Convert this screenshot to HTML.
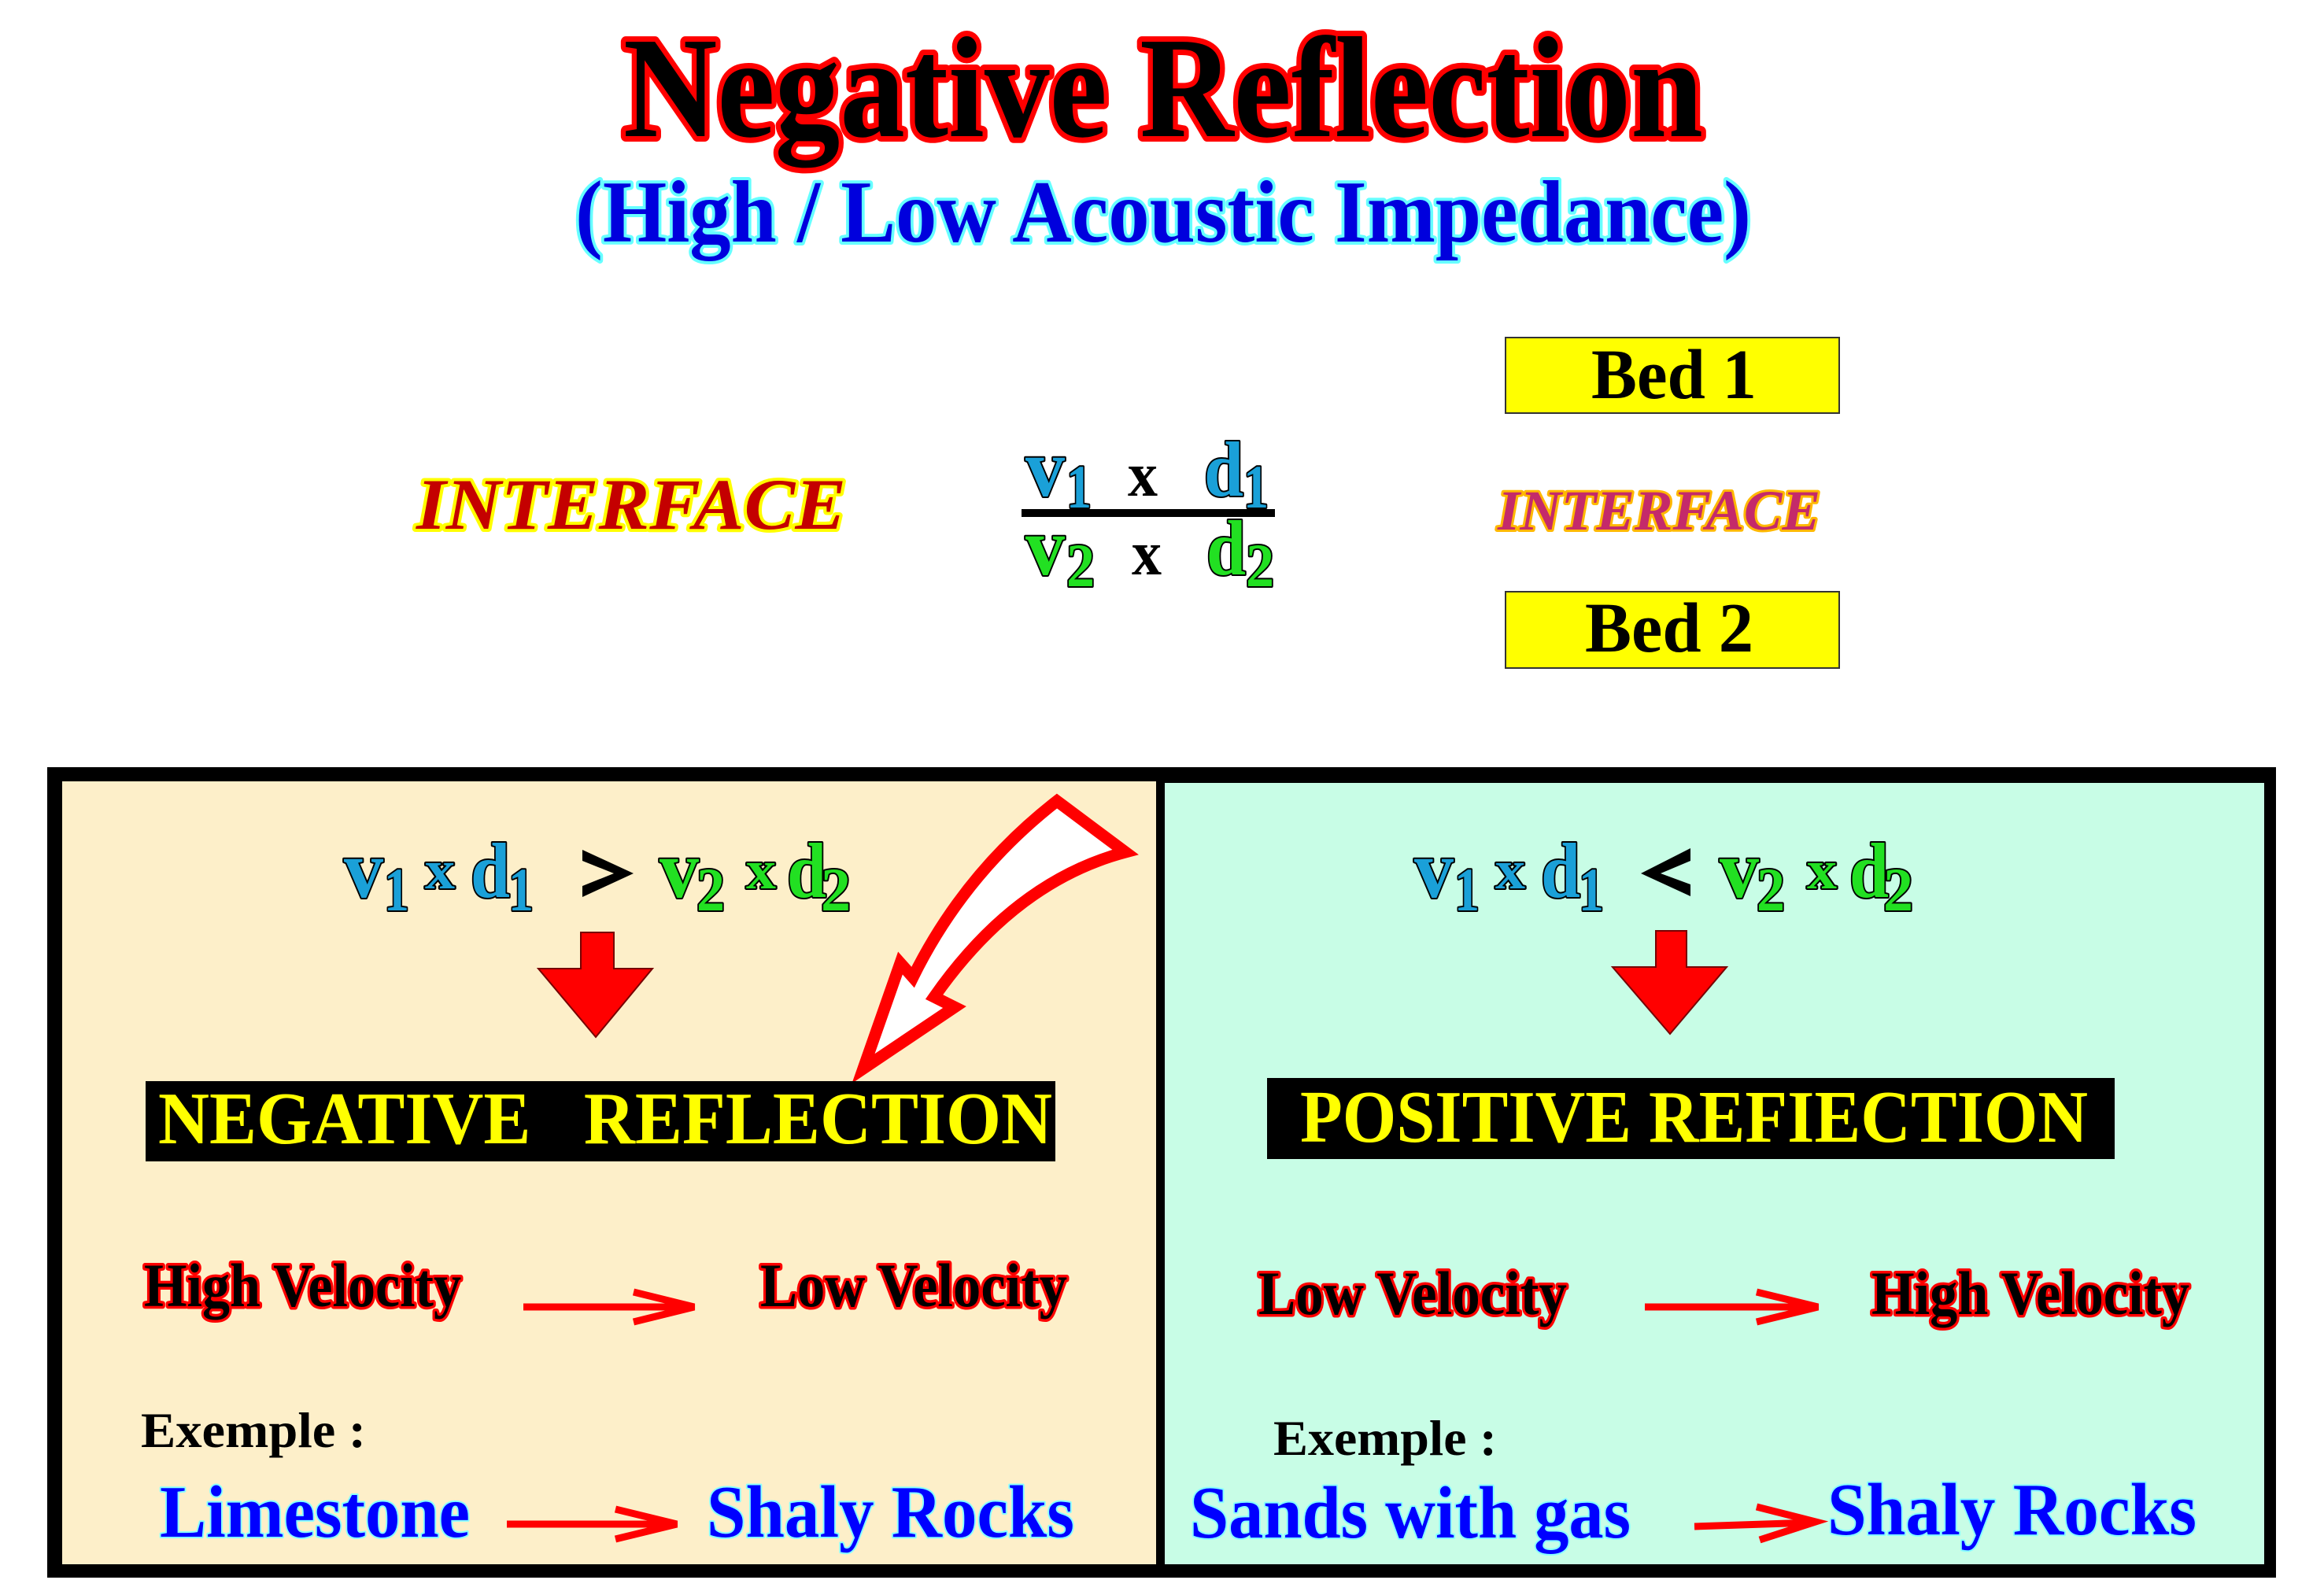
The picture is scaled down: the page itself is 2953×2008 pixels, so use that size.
<!DOCTYPE html>
<html><head><meta charset="utf-8"><style>
html,body{margin:0;padding:0;background:#fff;}
svg{display:block;}
text{font-family:"Liberation Serif",serif;font-weight:bold;paint-order:stroke;}
</style></head><body>
<svg width="2953" height="2008" viewBox="0 0 2953 2008" xmlns="http://www.w3.org/2000/svg">
<!-- Title -->
<text x="792" y="173" font-size="183" fill="#000" stroke="#ff0000" stroke-width="14" stroke-linejoin="round" textLength="1372" lengthAdjust="spacingAndGlyphs">Negative Reflection</text>
<text x="731" y="307" font-size="112" fill="#0000dd" stroke="#66ffff" stroke-width="8" stroke-linejoin="round" textLength="1494" lengthAdjust="spacingAndGlyphs">(High / Low Acoustic Impedance)</text>

<!-- Left INTERFACE -->
<text x="529" y="672" font-size="92" font-style="italic" fill="#c40000" stroke="#ffff00" stroke-width="8" stroke-linejoin="round" textLength="546" lengthAdjust="spacingAndGlyphs">INTERFACE</text>

<!-- Fraction -->
<g stroke="#000" stroke-width="4" stroke-linejoin="round">
<text x="1303" y="630" font-size="105" fill="#1aa0d8" textLength="50" lengthAdjust="spacingAndGlyphs">v</text>
<text x="1355" y="645" font-size="78" fill="#1aa0d8" textLength="32" lengthAdjust="spacingAndGlyphs">1</text>
<text x="1530" y="630" font-size="100" fill="#1aa0d8" textLength="50" lengthAdjust="spacingAndGlyphs">d</text>
<text x="1580" y="645" font-size="78" fill="#1aa0d8" textLength="32" lengthAdjust="spacingAndGlyphs">1</text>
<text x="1303" y="730" font-size="105" fill="#22e022" textLength="50" lengthAdjust="spacingAndGlyphs">v</text>
<text x="1355" y="745" font-size="78" fill="#22e022" textLength="36" lengthAdjust="spacingAndGlyphs">2</text>
<text x="1533" y="730" font-size="100" fill="#22e022" textLength="50" lengthAdjust="spacingAndGlyphs">d</text>
<text x="1583" y="745" font-size="78" fill="#22e022" textLength="36" lengthAdjust="spacingAndGlyphs">2</text>
</g>
<text x="1433" y="630" font-size="80" fill="#000" textLength="38" lengthAdjust="spacingAndGlyphs">x</text>
<text x="1438" y="730" font-size="80" fill="#000" textLength="38" lengthAdjust="spacingAndGlyphs">x</text>
<rect x="1298" y="647" width="322" height="10" fill="#000"/>

<!-- Bed boxes -->
<rect x="1913" y="429" width="424" height="96" fill="#ffff00" stroke="#333" stroke-width="2"/>
<text x="2022" y="506" font-size="90" fill="#000" textLength="210" lengthAdjust="spacingAndGlyphs">Bed 1</text>
<text x="1903" y="673" font-size="72" font-style="italic" fill="#c42a6a" stroke="#ffb800" stroke-width="6" stroke-linejoin="round" textLength="410" lengthAdjust="spacingAndGlyphs">INTERFACE</text>
<rect x="1913" y="752" width="424" height="97" fill="#ffff00" stroke="#333" stroke-width="2"/>
<text x="2014" y="828" font-size="90" fill="#000" textLength="214" lengthAdjust="spacingAndGlyphs">Bed 2</text>

<!-- Panels -->
<rect x="60" y="975" width="2832" height="1030" fill="#000"/>
<rect x="79" y="993" width="1390" height="995" fill="#fdefc9"/>
<rect x="1480" y="995" width="1397" height="993" fill="#c8fde6"/>

<!-- Left formula -->
<g stroke="#000" stroke-width="4" stroke-linejoin="round">
<text x="437" y="1140" font-size="105" fill="#1aa0d8" textLength="50" lengthAdjust="spacingAndGlyphs">v</text>
<text x="488" y="1157" font-size="78" fill="#1aa0d8" textLength="32" lengthAdjust="spacingAndGlyphs">1</text>
<text x="540" y="1129" font-size="70" fill="#1aa0d8" textLength="38" lengthAdjust="spacingAndGlyphs">x</text>
<text x="598" y="1140" font-size="100" fill="#1aa0d8" textLength="50" lengthAdjust="spacingAndGlyphs">d</text>
<text x="646" y="1157" font-size="78" fill="#1aa0d8" textLength="32" lengthAdjust="spacingAndGlyphs">1</text>
<text x="838" y="1140" font-size="105" fill="#22e022" textLength="50" lengthAdjust="spacingAndGlyphs">v</text>
<text x="885" y="1157" font-size="78" fill="#22e022" textLength="36" lengthAdjust="spacingAndGlyphs">2</text>
<text x="948" y="1129" font-size="70" fill="#22e022" textLength="38" lengthAdjust="spacingAndGlyphs">x</text>
<text x="1000" y="1140" font-size="100" fill="#22e022" textLength="50" lengthAdjust="spacingAndGlyphs">d</text>
<text x="1043" y="1157" font-size="78" fill="#22e022" textLength="38" lengthAdjust="spacingAndGlyphs">2</text>
</g>
<polygon points="740,1080 805,1110 740,1140 740,1126 780,1110 740,1094" fill="#000"/>

<!-- Right formula -->
<g stroke="#000" stroke-width="4" stroke-linejoin="round">
<text x="1797" y="1140" font-size="105" fill="#1aa0d8" textLength="50" lengthAdjust="spacingAndGlyphs">v</text>
<text x="1848" y="1157" font-size="78" fill="#1aa0d8" textLength="32" lengthAdjust="spacingAndGlyphs">1</text>
<text x="1900" y="1129" font-size="70" fill="#1aa0d8" textLength="38" lengthAdjust="spacingAndGlyphs">x</text>
<text x="1958" y="1140" font-size="100" fill="#1aa0d8" textLength="50" lengthAdjust="spacingAndGlyphs">d</text>
<text x="2006" y="1157" font-size="78" fill="#1aa0d8" textLength="32" lengthAdjust="spacingAndGlyphs">1</text>
<text x="2185" y="1140" font-size="105" fill="#22e022" textLength="50" lengthAdjust="spacingAndGlyphs">v</text>
<text x="2232" y="1157" font-size="78" fill="#22e022" textLength="36" lengthAdjust="spacingAndGlyphs">2</text>
<text x="2296" y="1129" font-size="70" fill="#22e022" textLength="38" lengthAdjust="spacingAndGlyphs">x</text>
<text x="2350" y="1140" font-size="100" fill="#22e022" textLength="50" lengthAdjust="spacingAndGlyphs">d</text>
<text x="2393" y="1157" font-size="78" fill="#22e022" textLength="38" lengthAdjust="spacingAndGlyphs">2</text>
</g>
<polygon points="2148,1078 2085,1110 2148,1139 2148,1124 2110,1110 2148,1094" fill="#000"/>

<!-- Red down arrows -->
<polygon points="738,1185 780,1185 780,1231 829,1231 757,1318 684,1231 738,1231" fill="#ff0000" stroke="#700" stroke-width="2"/>
<polygon points="2104,1183 2143,1183 2143,1229 2194,1229 2122,1314 2049,1229 2104,1229" fill="#ff0000" stroke="#700" stroke-width="2"/>

<!-- Curved white arrow -->
<path d="M1097,1358 L1144,1224 L1160,1242 Q1225,1110 1343,1018 L1430,1083 Q1290,1120 1187,1267 L1213,1280 Z" fill="#fff" stroke="#ff0000" stroke-width="15" stroke-linejoin="miter"/>

<!-- Reflection boxes -->
<rect x="185" y="1374" width="1156" height="102" fill="#000"/>
<text x="201" y="1453" font-size="94" fill="#ffff00" textLength="1136" lengthAdjust="spacingAndGlyphs" xml:space="preserve">NEGATIVE   REFLECTION</text>
<rect x="1610" y="1370" width="1077" height="103" fill="#000"/>
<text x="1652" y="1451" font-size="94" fill="#ffff00" textLength="1001" lengthAdjust="spacingAndGlyphs">POSITIVE REFIECTION</text>

<!-- Velocity labels -->
<g font-size="78" fill="#000" stroke="#ff0000" stroke-width="7" stroke-linejoin="round">
<text x="183" y="1660" textLength="403" lengthAdjust="spacingAndGlyphs">High Velocity</text>
<text x="966" y="1660" textLength="390" lengthAdjust="spacingAndGlyphs">Low Velocity</text>
<text x="1599" y="1670" textLength="392" lengthAdjust="spacingAndGlyphs">Low Velocity</text>
<text x="2378" y="1670" textLength="404" lengthAdjust="spacingAndGlyphs">High Velocity</text>
</g>

<!-- Red thin arrows -->
<g stroke="#ff0000" stroke-width="9" fill="none" stroke-linecap="butt">
<line x1="665" y1="1661" x2="880" y2="1661"/><polyline points="805,1642 882,1661 805,1680"/>
<line x1="2090" y1="1661" x2="2308" y2="1661"/><polyline points="2232,1642 2310,1661 2232,1680"/>
<line x1="644" y1="1937" x2="858" y2="1937"/><polyline points="782,1918 860,1937 782,1956"/>
<line x1="2153" y1="1940" x2="2302" y2="1935"/><polyline points="2232,1915 2307,1934 2236,1957"/>
</g>

<!-- Exemple -->
<text x="179" y="1839" font-size="64" fill="#000" textLength="286" lengthAdjust="spacingAndGlyphs">Exemple :</text>
<text x="1618" y="1849" font-size="64" fill="#000" textLength="284" lengthAdjust="spacingAndGlyphs">Exemple :</text>

<!-- Rocks -->
<g font-size="94" fill="#0000ff" stroke="#88ffff" stroke-width="4" stroke-linejoin="round">
<text x="203" y="1953" textLength="394" lengthAdjust="spacingAndGlyphs">Limestone</text>
<text x="898" y="1953" textLength="467" lengthAdjust="spacingAndGlyphs">Shaly Rocks</text>
<text x="1512" y="1954" textLength="560" lengthAdjust="spacingAndGlyphs">Sands with gas</text>
<text x="2322" y="1950" textLength="469" lengthAdjust="spacingAndGlyphs">Shaly Rocks</text>
</g>
</svg>
</body></html>
